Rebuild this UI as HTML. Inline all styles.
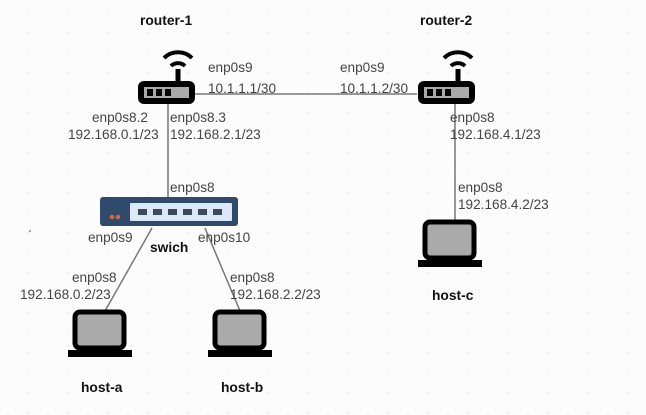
<!DOCTYPE html>
<html><head><meta charset="utf-8"><style>
html,body{margin:0;padding:0;background:#fcfcfc}
svg{display:block}
text{font-family:"Liberation Sans","DejaVu Sans",sans-serif;font-size:13.6px;fill:#444}
.b{font-weight:bold;fill:#111;font-size:13.8px}
</style></head><body>
<svg width="646" height="415" viewBox="0 0 646 415" xmlns="http://www.w3.org/2000/svg">
<defs><pattern id="g" width="20" height="20" patternUnits="userSpaceOnUse"><circle cx="8" cy="13" r="0.8" fill="#e2e2e2"/></pattern>
<g id="rt">
 <path d="M-14,-35 a20,20 0 0 1 28,0" fill="none" stroke="#000" stroke-width="4"/>
 <path d="M-7,-27 a10,10 0 0 1 14,0" fill="none" stroke="#000" stroke-width="4"/>
 <rect x="-2.5" y="-24" width="5" height="14" fill="#000"/>
 <rect x="-40" y="-12" width="57" height="23" rx="6" fill="#000"/>
 <rect x="-34" y="-6" width="45" height="11" fill="#aaa"/>
 <rect x="-31" y="-4" width="6" height="7" fill="#000"/><rect x="-22" y="-4" width="6" height="7" fill="#000"/><rect x="-13" y="-4" width="6" height="7" fill="#000"/>
</g>
<g id="lp">
 <rect x="3" y="2" width="49" height="36" rx="5" fill="#aaa" stroke="#000" stroke-width="5"/>
 <rect x="-4" y="40" width="64" height="7" fill="#000"/>
</g>
</defs>
<rect width="646" height="415" fill="url(#g)"/>
<g stroke="#777" stroke-width="1.5">
<line x1="195" y1="94" x2="417" y2="94"/>
<line x1="168" y1="104" x2="168" y2="198"/>
<line x1="455" y1="104" x2="455" y2="222"/>
<line x1="152" y1="228" x2="105" y2="311"/>
<line x1="205" y1="228" x2="240" y2="311"/>
</g>
<use href="#rt" x="178" y="93"/>
<use href="#rt" x="458" y="93"/>
<rect x="100" y="197" width="138" height="29" rx="3" fill="#2f4a6a"/>
<rect x="130" y="203" width="102" height="18" rx="1" fill="#dbe8f5"/>
<g fill="#3a4a5c">
<rect x="138" y="209" width="9" height="6"/><rect x="153" y="209" width="9" height="6"/><rect x="168" y="209" width="9" height="6"/><rect x="183" y="209" width="9" height="6"/><rect x="198" y="209" width="9" height="6"/><rect x="213" y="209" width="9" height="6"/>
</g>
<circle cx="112" cy="217" r="2.3" fill="#d26a3a"/><circle cx="118" cy="217" r="2.3" fill="#d26a3a"/>
<use href="#lp" x="72" y="310"/>
<use href="#lp" x="212" y="310"/>
<use href="#lp" x="422" y="220"/>
<text class="b" x="140" y="25">router-1</text>
<text class="b" x="420" y="25">router-2</text>
<text class="b" x="150" y="252">swich</text>
<text class="b" x="432" y="300">host-c</text>
<text class="b" x="81" y="392">host-a</text>
<text class="b" x="221" y="392">host-b</text>
<text x="208" y="72">enp0s9</text><text x="208" y="93">10.1.1.1/30</text>
<text x="340" y="72">enp0s9</text><text x="340" y="93">10.1.1.2/30</text>
<text x="92" y="122">enp0s8.2</text><text x="68" y="139">192.168.0.1/23</text>
<text x="170" y="122">enp0s8.3</text><text x="170" y="139">192.168.2.1/23</text>
<text x="450" y="122">enp0s8</text><text x="450" y="139">192.168.4.1/23</text>
<text x="458" y="192">enp0s8</text><text x="458" y="209">192.168.4.2/23</text>
<text x="170" y="192">enp0s8</text>
<text x="88" y="242">enp0s9</text><text x="198" y="242">enp0s10</text>
<text x="72" y="282">enp0s8</text><text x="20" y="299">192.168.0.2/23</text>
<text x="230" y="282">enp0s8</text><text x="230" y="299">192.168.2.2/23</text>
<circle cx="30" cy="231" r="0.8" fill="#444"/>
</svg>
</body></html>
